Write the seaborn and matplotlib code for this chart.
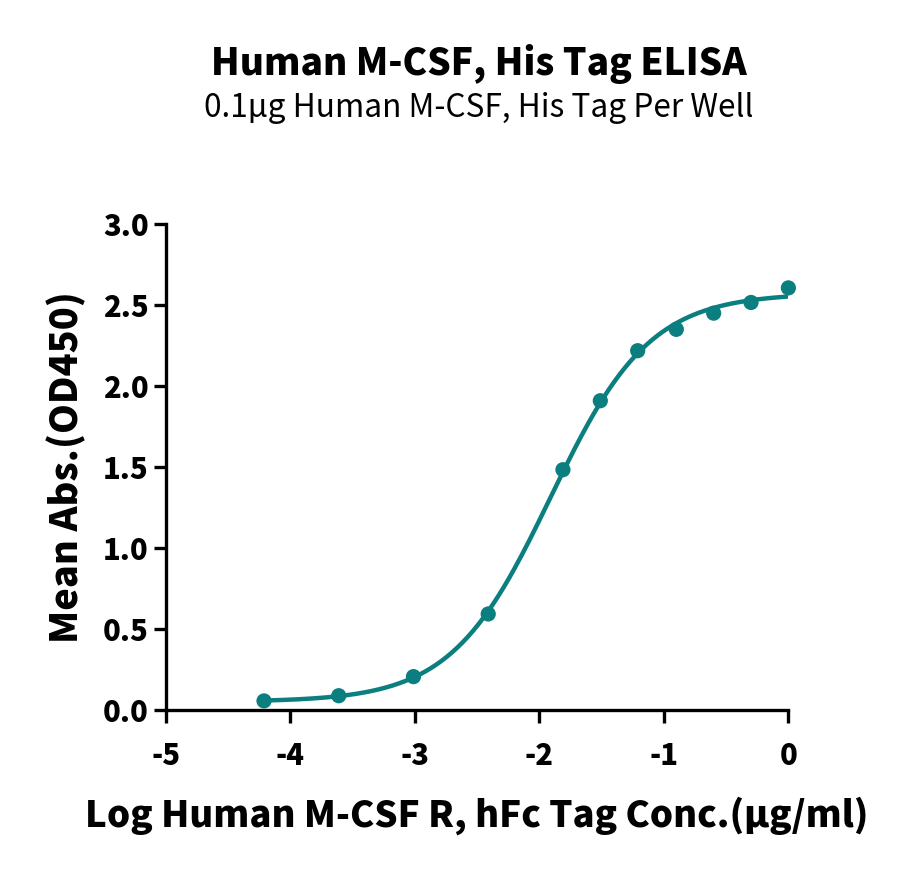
import numpy as np
import pandas as pd
import matplotlib
matplotlib.use("Agg")
import matplotlib.pyplot as plt
import seaborn as sns

# Data
log_conc = [-4.21, -3.61, -3.01, -2.41, -1.81, -1.51, -1.21, -0.90, -0.60, -0.30, 0.0]
mean_abs = [0.055, 0.087, 0.205, 0.592, 1.483, 1.909, 2.218, 2.350, 2.450, 2.516, 2.606]

title = "Human M-CSF, His Tag ELISA"
subtitle = "0.1\u00b5g Human M-CSF, His Tag Per Well"
xlabel = "Log Human M-CSF R, hFc Tag Conc.(\u00b5g/ml)"
ylabel = "Mean Abs.(OD450)"
x_ticks = [-5, -4, -3, -2, -1, 0]
y_ticks = [0.0, 0.5, 1.0, 1.5, 2.0, 2.5, 3.0]

teal = "#0b7e80"

df = pd.DataFrame({"x": log_conc, "y": mean_abs})

# 4PL fit (grid search on logEC50 / hill, linear solve for bottom / top)
xa = np.array(log_conc)
ya = np.array(mean_abs)
best = None
for c in np.linspace(-3, -1, 201):
    for h in np.linspace(0.5, 2.0, 151):
        f = 1.0 / (1.0 + 10 ** ((c - xa) * h))
        A = np.column_stack([np.ones_like(f), f])
        coef, res, _, _ = np.linalg.lstsq(A, ya, rcond=None)
        err = np.sum((A @ coef - ya) ** 2)
        if best is None or err < best[0]:
            best = (err, c, h, coef)
_, c, h, coef = best
xs = np.linspace(min(log_conc), max(log_conc), 300)
fit = pd.DataFrame({"x": xs, "y": coef[0] + coef[1] / (1.0 + 10 ** ((c - xs) * h))})

sns.set_style("ticks")
plt.rcParams["font.family"] = ["Noto Sans CJK JP", "DejaVu Sans"]
plt.rcParams["axes.unicode_minus"] = False
plt.rcParams["text.color"] = "black"
plt.rcParams["axes.labelcolor"] = "black"
plt.rcParams["xtick.color"] = "black"
plt.rcParams["ytick.color"] = "black"
plt.rcParams["axes.edgecolor"] = "black"

fig = plt.figure(figsize=(9, 8.72), dpi=100)
ax = fig.add_axes([0.184, 0.186, 0.692, 0.557])

sns.lineplot(data=fit, x="x", y="y", color=teal, linewidth=3.2, ax=ax)
sns.scatterplot(data=df, x="x", y="y", color=teal, s=120, edgecolor="none", ax=ax, zorder=3, clip_on=False)

ax.set_xlim(-5, 0)
ax.set_ylim(0, 3)
ax.set_xticks(x_ticks)
ax.set_yticks(y_ticks)
ax.set_xticklabels([str(t) for t in x_ticks], fontsize=21, fontweight="black")
ax.set_yticklabels(["%.1f" % t for t in y_ticks], fontsize=21, fontweight="black")
ax.tick_params(width=2.4, length=9)
ax.tick_params(axis="x", pad=14)
ax.tick_params(axis="y", pad=3)
for s in ["left", "bottom"]:
    ax.spines[s].set_linewidth(2.4)
sns.despine(ax=ax)

ax.set_xlabel(xlabel, fontsize=26.3, fontweight="black", labelpad=18)
ax.set_ylabel(ylabel, fontsize=27.3, fontweight="black", labelpad=12)

fig.text(0.532, 0.927, title, ha="center", va="center", fontsize=26.7, fontweight="black")
fig.text(0.532, 0.876, subtitle, ha="center", va="center", fontsize=22.8)

fig.savefig("out.png", dpi=100)
